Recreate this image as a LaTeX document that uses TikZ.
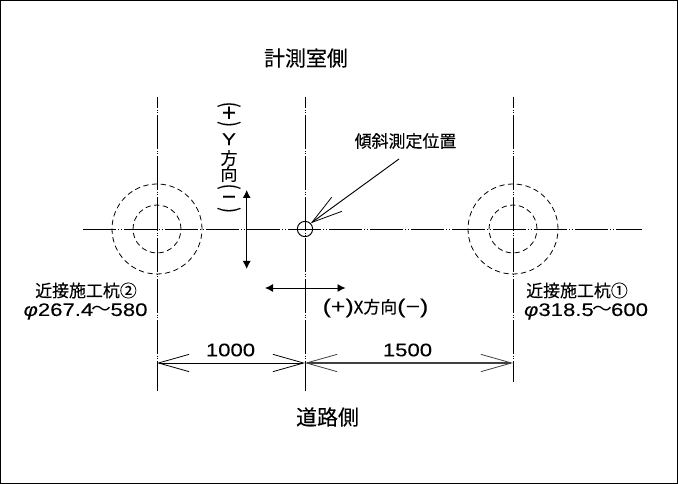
\documentclass[tikz,border=0pt]{standalone}
\usepackage{fontspec}
\usetikzlibrary{arrows.meta}
\setmainfont[FakeBold=0.25]{Noto Sans CJK JP}
\newfontfamily\numfont[FakeStretch=1.22,FakeBold=0.15]{Liberation Sans}
\newfontfamily\waveglyph[FakeStretch=1.1]{Noto Sans CJK JP}
\newcommand{\vparen}[1]{\rotatebox[origin=c]{-90}{\scalebox{1}[1.35]{#1}}}
\newcommand{\wavedash}{{\waveglyph\kern-1pt\raisebox{0.5pt}{〜}\kern-1pt}}

\tikzset{every picture/.style={line width=0.75pt}}
\tikzset{
  centerline/.style={line width=0.7pt,dash pattern=on 25pt off 1.5pt on 0.75pt off 1.25pt on 0.75pt off 1.5pt},
  pile/.style={circle,draw,inner sep=0pt,line width=0.6pt,dash pattern=on 4pt off 2.6pt},
  dimline/.style={{Straight Barb[length=23pt,width=13pt,line width=0.6pt]}-{Straight Barb[length=23pt,width=13pt,line width=0.6pt]},line width=0.7pt},
  dirline/.style={{Latex[length=6pt,width=6pt]}-{Latex[length=6pt,width=6pt]},line width=0.7pt},
  biglabel/.style={inner sep=0.75pt,font=\fontsize{15.7}{18}\selectfont},
  smalllabel/.style={inner sep=0.75pt,font=\fontsize{12.7}{15}\selectfont},
  numlabel/.style={inner sep=0.75pt,font=\numfont\fontsize{13.6}{16}\selectfont}
}

\begin{document}
\begin{tikzpicture}[x=0.75pt,y=0.75pt,yscale=-1,xscale=1]
\useasboundingbox (0,0) rectangle (678,484);
\draw [line width=1pt] (0.6,0.6) rectangle (677.4,483.2);

%Coordinates
\coordinate (pile_left) at (157,229);
\coordinate (pile_mid) at (305,229);
\coordinate (pile_right) at (513,229);
\coordinate (axis_w) at (83,229);
\coordinate (axis_e) at (642,229);
\coordinate (left_n) at (157,97);
\coordinate (left_s) at (157,391);
\coordinate (mid_n) at (305,97);
\coordinate (mid_s) at (305,391);
\coordinate (right_n) at (513,97);
\coordinate (right_s) at (513,382);
\coordinate (dim_a) at (157,363);
\coordinate (dim_b) at (305,363);
\coordinate (dim_c) at (513,363);
\coordinate (y_n) at (246.7,190);
\coordinate (y_s) at (246.7,269);
\coordinate (x_w) at (265,288);
\coordinate (x_e) at (345.5,288);
\coordinate (lead_start) at (399,159);

%Centre lines
\draw [centerline] (axis_w) -- (axis_e);
\draw [centerline,dash phase=17pt] (left_n) -- (left_s);
\draw [centerline,dash phase=17pt] (mid_n) -- (mid_s);
\draw [centerline,dash phase=17pt] (right_n) -- (right_s);

%Piles
\node (outer_left) [pile,minimum size=67.5pt] at (pile_left) {};
\node (inner_left) [pile,minimum size=36pt] at (pile_left) {};
\node (outer_right) [pile,minimum size=67.5pt] at (pile_right) {};
\node (inner_right) [pile,minimum size=36pt] at (pile_right) {};
\node (gauge) [circle,draw,inner sep=0pt,minimum size=11.5pt,line width=0.7pt] at (pile_mid) {};

%Arrows
\draw [dirline] (y_n) -- (y_s);
\draw [dirline] (x_w) -- (x_e);
\draw [dimline] (dim_a) -- (dim_b);
\draw [dimline,line width=0.9pt,black!75] (dim_b) -- (dim_c);
\draw [-{Straight Barb[length=23pt,width=13pt,line width=0.6pt]},line width=0.7pt] (lead_start) -- (gauge.45);

% Text Node
\draw (306,58) node (lbl_room) [biglabel] {計測室側};
% Text Node
\draw (327.5,417) node (lbl_road) [biglabel] {道路側};
% Text Node
\draw (405.5,141) node (lbl_gauge) [smalllabel] {傾斜測定位置};
% Text Node
\draw (86,290.5) node (lbl_left) [smalllabel] {近接施工杭②};
% Text Node
\draw (85.5,311.5) node (size_left) [numlabel] {\textit{φ}267.4\wavedash 580};
% Text Node
\draw (577,290.5) node (lbl_right) [smalllabel] {近接施工杭①};
% Text Node
\draw (586,311.5) node (size_right) [numlabel] {\textit{φ}318.5\wavedash 600};
% Text Node
\draw (230.5,350) node (dim_left) [numlabel] {1000};
% Text Node
\draw (407.5,350) node (dim_right) [numlabel] {1500};
% Text Node
\draw (375.5,308) node (lbl_x) [smalllabel] {\scalebox{1.2}{\numfont(+)}X方向\scalebox{1.2}{\numfont(−)}};
% Text Node
\draw (229,159.5) node (lbl_y) [smalllabel,align=center,font=\fontsize{12.7}{15.5}\selectfont] {\vparen{(}\\[-8pt]\scalebox{1.45}{+}\\[-8.5pt]\vparen{)}\\[-5pt]{\numfont Y}\\[-1pt]方\\[-3.5pt]向\\[-5.5pt]\vparen{(}\\[-6.5pt]\scalebox{1.45}{−}\\[-7pt]\vparen{)}};

\end{tikzpicture}
\end{document}
